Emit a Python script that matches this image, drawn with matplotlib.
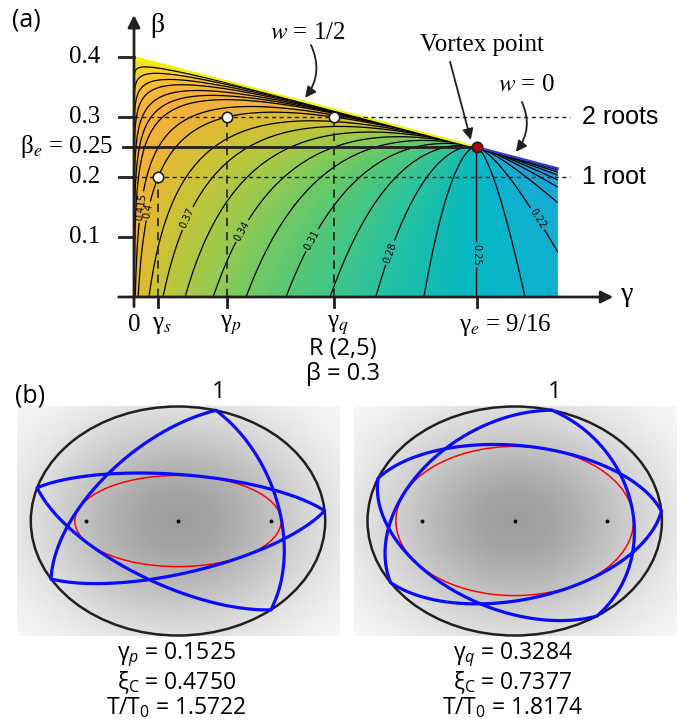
#recreates the (a) rotation-number map and (b) two R(2,5) orbits
import numpy as np
import matplotlib
matplotlib.use('Agg') #no display
import matplotlib.pyplot as plt
from matplotlib.colors import LinearSegmentedColormap, Normalize
from matplotlib.patches import Polygon, Ellipse

plt.rcParams['mathtext.fontset'] = 'custom'
plt.rcParams['mathtext.rm'] = 'Open Sans'
plt.rcParams['mathtext.it'] = 'Open Sans:italic'
plt.rcParams['mathtext.bf'] = 'Open Sans:bold'

SERIF = 'Liberation Serif'
SANS = 'Liberation Sans'
BFONT = 'Open Sans'

# ---------------- panel (a) data ----------------
gamma_e, beta_e = 9/16, 0.25        # vortex point
beta_0 = 0.4                        # w = 1/2 line starts at (0, 0.4)
gamma_end = 0.696                   # right end of the coloured map
gamma_s, gamma_p, gamma_q = 0.04, 0.1525, 0.3284
beta_one, beta_two = 0.2, 0.3
y_ticks = [0.1, 0.2, 0.3, 0.4]

# contour levels and one point (gamma, beta)
levels = [0.13, 0.145, 0.16, 0.175, 0.19, 0.205, 0.22,
          0.235, 0.25, 0.265, 0.28, 0.295, 0.31, 0.325, 0.34, 0.355, 0.37, 0.385,
          0.4, 0.415,
          0.43, 0.445, 0.46, 0.475, 0.49, 0.505, 0.52]
anchor_g = [0.696, 0.696, 0.696, 0.696, 0.696, 0.696, 0.696,
            0.642, 0.5625, 0.476, 0.397, 0.322, 0.2496, 0.184, 0.130, 0.084, 0.0476, 0.0246,
            0.1525, 0.0115,
            0.023, 0.023, 0.023, 0.023, 0.023, 0.023, 0.023]
anchor_b = [0.2117, 0.208, 0.203, 0.195, 0.183, 0.157, 0.075,
            0, 0, 0, 0, 0, 0, 0, 0, 0, 0, 0,
            0.3, 0.15,
            0.265, 0.2917, 0.3167, 0.34, 0.3567, 0.3717, 0.3833]
label_levels = [0.22, 0.25, 0.28, 0.31, 0.34, 0.37, 0.4, 0.415]
label_pos = [(0.667, 0.133), (0.5625, 0.07), (0.417, 0.075), (0.284, 0.10),
             (0.174, 0.112), (0.084, 0.133), (0.025, 0.143), (0.0115, 0.15)]

# colour stops (value -> colour) sampled from the map
cmap_vals = [0.115, 0.145, 0.175, 0.205, 0.235, 0.25, 0.265, 0.28, 0.295, 0.31,
             0.325, 0.34, 0.355, 0.37, 0.385, 0.40, 0.415, 0.445, 0.475, 0.505, 0.535, 0.55]
cmap_cols = ['#2a80e8', '#2a90e4', '#22a0dc', '#18aad4', '#0cb4cc', '#06b8c4', '#14bcb2',
             '#28c2a0', '#40c68a', '#58c874', '#74ca62', '#92ca52', '#acc844', '#c2c63a',
             '#d4c034', '#e4b834', '#f0b23a', '#f6b03c', '#f8b838', '#f8cc30', '#f4e424', '#f2f020']

# ---------------- panel (b) data ----------------
xi_wall = 1.04                       # elliptic coordinate of the billiard wall
xi_c = [0.4750, 0.7377]              # caustics
gam_b = [0.1525, 0.3284]
period = [1.5722, 1.8174]
centre_x = [0.0, 3.64]
bounce_deg = [[75.1, 5.1, -50.9, -149.6, 163.1],
              [75.4, 5.0, -56.1, -147.5, 158.1]]
orbit_order = [0, 2, 4, 1, 3, 0]


def beta_top(g):
    return beta_0 - (beta_0 - beta_e) / gamma_e * g


def map_coord(g, b):
    # stretched coordinate: contours gather along gamma=0 and along the top line
    X = g / gamma_e
    Y = 1 - b / beta_top(g)
    with np.errstate(invalid='ignore', divide='ignore'):
        W = (1 - X**0.1) / np.maximum(Y, 1e-7)**0.595
    return np.where(Y > 0, W, np.nan)


fig = plt.figure(figsize=(6.85, 7.24), dpi=100)

# ================= panel (a) =================
ax = fig.add_axes([0, 394/724, 1, 330/724])
ax.set_xlim(-134/609, 551/609)
ax.set_ylim(-33/600, 297/600)
ax.axis('off')

lv = np.array(levels)
Wa = map_coord(np.array(anchor_g), np.array(anchor_b))
order = np.argsort(Wa)
Wx = np.concatenate([[Wa[order][0] - 1.0], Wa[order], [Wa[order][-1] + 3.0]])
Fx = np.concatenate([[0.115], lv[order], [0.55]])

gg = np.linspace(0, gamma_end, 1000)
bb = np.linspace(0, beta_0, 800)
G, B = np.meshgrid(gg, bb)
Wg = map_coord(G, B)
F = np.interp(np.nan_to_num(Wg, nan=0.0), Wx, Fx)
F = np.ma.masked_where(np.isnan(Wg), F)

cmap = LinearSegmentedColormap.from_list(
    'map', [((v - cmap_vals[0]) / (cmap_vals[-1] - cmap_vals[0]), c) for v, c in zip(cmap_vals, cmap_cols)])
norm = Normalize(cmap_vals[0], cmap_vals[-1])

region = Polygon([(0, 0), (0, beta_0), (gamma_e, beta_e), (gamma_end, beta_top(gamma_end)), (gamma_end, 0)],
                 closed=True, transform=ax.transData, facecolor='none', edgecolor='none')
ax.add_patch(region)
im = ax.imshow(F, extent=[0, gamma_end, 0, beta_0], origin='lower', cmap=cmap, norm=norm,
               aspect='auto', interpolation='bilinear', zorder=1)
im.set_clip_path(region)

plain_levels = [l for l in levels if l not in label_levels]
cs = ax.contour(G, B, F, levels=plain_levels, colors='k', linewidths=0.9, zorder=2)
cs.set_clip_path(region)
cl = ax.contour(G, B, F, levels=label_levels, colors='k', linewidths=0.9, zorder=2)
cl.set_clip_path(region)
ax.clabel(cl, manual=label_pos, inline=True, inline_spacing=2,
          fontsize=7, fmt=lambda v: f'{v:.3f}'.rstrip('0'))

# boundary lines w = 1/2 and w = 0
ax.plot([0, gamma_e], [beta_0, beta_e], color='#f2f200', lw=1.6, zorder=3)
ax.plot([gamma_e, gamma_end], [beta_e, beta_top(gamma_end)], color='#3a3ad8', lw=1.6, zorder=3)

# axes with arrows
arw = dict(arrowstyle='-|>', color='#231f20', lw=2, mutation_scale=18, shrinkA=0, shrinkB=0)
ax.annotate('', xy=(0, 0.47), xytext=(0, -0.016), arrowprops=arw, zorder=5)
ax.annotate('', xy=(0.787, 0), xytext=(-0.025, 0), arrowprops=arw, zorder=5)
for yt in y_ticks:
    ax.plot([-0.025, 0], [yt, yt], color='#231f20', lw=2, zorder=5)
    ax.text(-0.056, yt, f'{yt:g}', ha='right', va='center', fontsize=18, family=SERIF)
for xt in [gamma_s, gamma_p, gamma_q, gamma_e]:
    ax.plot([xt, xt], [0, -0.017], color='#231f20', lw=2, zorder=5)

# reference lines
ax.plot([-0.018, gamma_e], [beta_e, beta_e], color='#231f20', lw=2, zorder=4)
for yb in [beta_two, beta_one]:
    ax.plot([0, 0.716], [yb, yb], color='#231f20', lw=1.0, ls=(0, (3, 2.5)), zorder=4)
ax.plot([gamma_s, gamma_s], [0, beta_one], color='#231f20', lw=1.2, ls=(0, (5, 3.5)), zorder=4)
for xg in [gamma_p, gamma_q]:
    ax.plot([xg, xg], [0, beta_two], color='#231f20', lw=1.2, ls=(0, (5, 3.5)), zorder=4)

ax.plot([gamma_s, gamma_p, gamma_q], [beta_one, beta_two, beta_two], 'o', ms=7.5,
        mfc='white', mec='#231f20', mew=1.2, zorder=6)
ax.plot([gamma_e], [beta_e], 'o', ms=7.5, mfc='#b00000', mec='#231f20', mew=1.2, zorder=6)

# labels
ax.text(-0.177, 0.462, '(a)', ha='center', va='center', fontsize=18, family=BFONT)
ax.text(0.038, 0.452, 'β', ha='center', va='center', fontsize=20, family=SERIF)
ax.text(-0.034, 0.251, 'β$_e$ = 0.25', ha='right', va='center', fontsize=18, family=SERIF,
        math_fontfamily='stix')
ax.text(0.81, 0.004, 'γ', ha='center', va='center', fontsize=20, family=SERIF)
ax.text(0, -0.046, '0', ha='center', va='center', fontsize=18, family=SERIF)
for xg, sub in [(gamma_s, 's'), (gamma_p, 'p'), (gamma_q, 'q')]:
    ax.text(xg - 0.011, -0.046, 'γ$_' + sub + '$', ha='left', va='center', fontsize=18,
            family=SERIF, math_fontfamily='stix')
ax.text(gamma_e - 0.029, -0.046, 'γ$_e$ = 9/16', ha='left', va='center', fontsize=18,
        family=SERIF, math_fontfamily='stix')
ax.text(0.736, beta_two, '2 roots', ha='left', va='center', fontsize=18, family=SANS)
ax.text(0.736, beta_one, '1 root', ha='left', va='center', fontsize=18, family=SANS)

ax.text(0.2857, 0.44, '$w$ = 1/2', ha='center', va='center', fontsize=18, family=SERIF,
        math_fontfamily='stix')
ax.text(0.571, 0.42, 'Vortex point', ha='center', va='center', fontsize=18, family=SERIF)
ax.text(0.645, 0.353, '$w$ = 0', ha='center', va='center', fontsize=18, family=SERIF,
        math_fontfamily='stix')
pointer = dict(arrowstyle='-|>', color='#231f20', lw=1.3, mutation_scale=16, shrinkA=0, shrinkB=0)
ax.annotate('', xy=(0.281, 0.332), xytext=(0.2906, 0.42),
            arrowprops=dict(pointer, connectionstyle='arc3,rad=-0.3'), zorder=7)
ax.annotate('', xy=(0.553, 0.262), xytext=(0.519, 0.392), arrowprops=pointer, zorder=7)
ax.annotate('', xy=(0.627, 0.242), xytext=(0.637, 0.325),
            arrowprops=dict(pointer, connectionstyle='arc3,rad=-0.3'), zorder=7)

# ================= panel (b) =================
bx = fig.add_axes([0, 0, 1, 394/724])
bx.set_xlim(-178/92.5, 507/92.5)
bx.set_ylim(-203/92.5, 191/92.5)
bx.axis('off')


def oscillator_arc(P, Q, ac, bc, n=160):
    # oscillator orbit arc from P to Q that just touches the caustic ellipse
    s = np.linspace(0, 1, n)
    for T in np.linspace(0.005, np.pi - 0.005, 900):
        V = (Q - P*np.cos(T)) / np.sin(T)
        pts = np.outer(np.cos(s*T), P) + np.outer(np.sin(s*T), V)
        if ((pts[:, 0]/ac)**2 + (pts[:, 1]/bc)**2).min() >= 1:
            break
    return pts


a_w, b_w = np.cosh(xi_wall), np.sinh(xi_wall)
for k in range(2):
    cx = centre_x[k]
    ac, bc = np.cosh(xi_c[k]), np.sinh(xi_c[k])
    # gray background shading
    xs = np.linspace(-a_w - 0.15, a_w + 0.15, 300)
    ys = np.linspace(-b_w, b_w, 220)
    XX, YY = np.meshgrid(xs, ys)
    rho2 = (XX / a_w)**2 + (YY / b_w)**2
    shade = 1 - 0.38 * np.exp(-rho2 / 0.9)
    bx.imshow(shade, extent=[cx + xs[0], cx + xs[-1], ys[0], ys[-1]], cmap='gray', vmin=0, vmax=1,
              aspect='auto', interpolation='bilinear', zorder=0)
    bx.add_patch(Ellipse((cx, 0), 2*a_w, 2*b_w, fill=False, ec='#231f20', lw=1.8, zorder=2))
    bx.add_patch(Ellipse((cx, 0), 2*ac, 2*bc, fill=False, ec='#ff0000', lw=1.1, zorder=3))
    bx.plot([cx - 1, cx, cx + 1], [0, 0, 0], 'o', ms=1.8, color='k', zorder=4)

    t = np.radians(bounce_deg[k])
    pts = np.column_stack([a_w*np.cos(t), b_w*np.sin(t)])
    for i, j in zip(orbit_order[:-1], orbit_order[1:]):
        arc = oscillator_arc(pts[i], pts[j], ac, bc)
        bx.plot(arc[:, 0] + cx, arc[:, 1], color='#0a0aff', lw=2.3, solid_capstyle='round', zorder=5)

    bx.text(cx + pts[0, 0] + 0.03, pts[0, 1] + 0.2, '1', ha='center', va='center', fontsize=17, family=BFONT)
    stats = ('γ$_' + 'pq'[k] + '$ = ' + f'{gam_b[k]:.4f}' + '\n'
             + 'ξ$_\\mathregular{C}$ = ' + f'{xi_c[k]:.4f}' + '\n'
             + 'T/T$_0$ = ' + f'{period[k]:.4f}')
    bx.text(cx - 0.02, -1.725, stats, ha='center', va='center', multialignment='center',
            linespacing=1.0, fontsize=16.5, family=BFONT, math_fontfamily='custom')

bx.text(-1.6, 1.351, '(b)', ha='center', va='center', fontsize=18, family=BFONT)
bx.text(1.784, 1.859, 'R (2,5)', ha='center', va='center', fontsize=17, family=BFONT)
bx.text(1.784, 1.589, 'β = 0.3', ha='center', va='center', fontsize=17, family=BFONT)

fig.savefig('out.png', dpi=100)
